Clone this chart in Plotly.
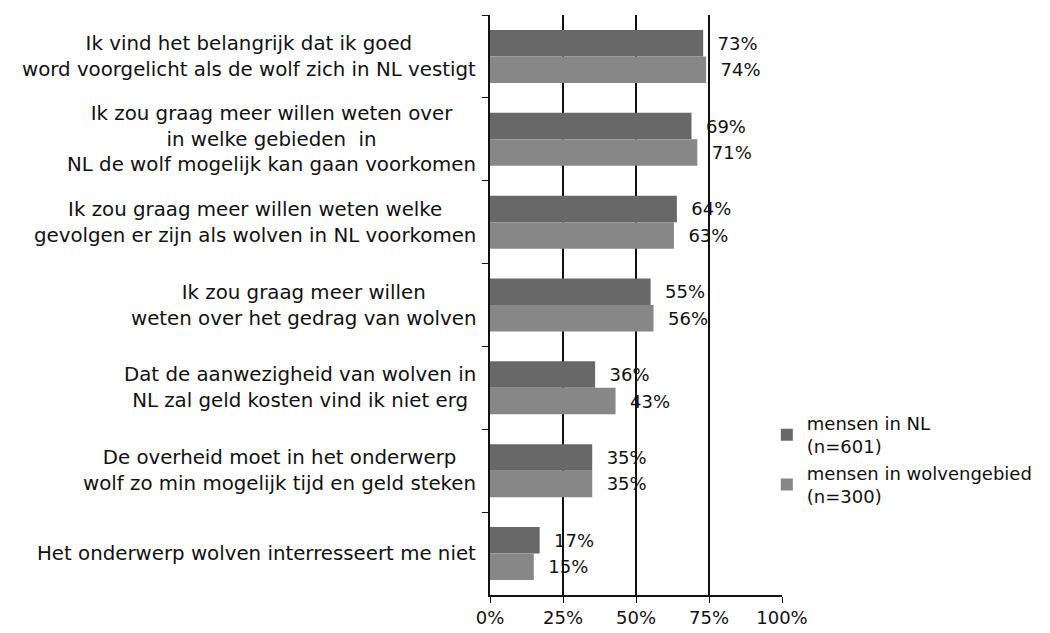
import plotly.graph_objects as go

categories = [
    "Ik vind het belangrijk dat ik goed<br>word voorgelicht als de wolf zich in NL vestigt",
    "Ik zou graag meer willen weten over<br>in welke gebieden  in<br>NL de wolf mogelijk kan gaan voorkomen",
    "Ik zou graag meer willen weten welke<br>gevolgen er zijn als wolven in NL voorkomen",
    "Ik zou graag meer willen<br>weten over het gedrag van wolven",
    "Dat de aanwezigheid van wolven in<br>NL zal geld kosten vind ik niet erg",
    "De overheid moet in het onderwerp<br>wolf zo min mogelijk tijd en geld steken",
    "Het onderwerp wolven interresseert me niet",
]
nl_values = [73, 69, 64, 55, 36, 35, 17]
wolf_values = [74, 71, 63, 56, 43, 35, 15]
series_names = ["mensen in NL<br>(n=601)", "mensen in wolvengebied<br>(n=300)"]
x_ticks = [0, 25, 50, 75, 100]
x_ticklabels = ["0%", "25%", "50%", "75%", "100%"]

FONT = "DejaVu Sans"
PAD = "\u00a0\u00a0"

fig = go.Figure()
fig.add_trace(go.Bar(
    y=categories, x=nl_values, orientation="h", name=series_names[0],
    legendgroup="a",
    marker=dict(color="#686868", line=dict(width=0)),
    text=[f"{PAD}{v}%" for v in nl_values], textposition="outside",
    textfont=dict(size=18, color="#111", family=FONT), cliponaxis=False,
))
fig.add_trace(go.Bar(
    y=categories, x=wolf_values, orientation="h", name=series_names[1],
    legendgroup="b",
    marker=dict(color="#878787", line=dict(width=0)),
    text=[f"{PAD}{v}%" for v in wolf_values], textposition="outside",
    textfont=dict(size=18, color="#111", family=FONT), cliponaxis=False,
))

for c in categories:
    fig.add_annotation(
        x=-0.04, xref="paper", y=c, yref="y", text=c, showarrow=False,
        xanchor="right", yanchor="middle", align="center",
        font=dict(size=19.8, color="#111", family=FONT),
    )

fig.update_layout(
    width=1050, height=633,
    margin=dict(l=482, r=276, t=7, b=46),
    paper_bgcolor="white", plot_bgcolor="white",
    barmode="group", bargap=0.36, bargroupgap=0,
    showlegend=True,
    legend=dict(
        x=0.948, y=0.328, xanchor="left", yanchor="top",
        font=dict(size=18, color="#111", family=FONT),
        itemwidth=30, tracegroupgap=21, traceorder="normal",
        bgcolor="rgba(0,0,0,0)",
    ),
    font=dict(family=FONT, color="#111"),
)
fig.update_xaxes(
    range=[0, 100], tickvals=x_ticks, ticktext=x_ticklabels,
    showgrid=True, gridcolor="#111", gridwidth=1.5,
    showline=True, linecolor="#111", linewidth=1.5,
    ticks="outside", ticklen=6, tickcolor="#111",
    tickfont=dict(size=18, color="#111", family=FONT),
    zeroline=False, fixedrange=True,
)
fig.update_yaxes(
    autorange="reversed", showticklabels=False,
    showline=True, linecolor="#111", linewidth=1.5,
    ticks="outside", tickson="boundaries", ticklen=6, tickcolor="#111",
    showgrid=False, zeroline=False,
)

fig.write_html("out.html")
